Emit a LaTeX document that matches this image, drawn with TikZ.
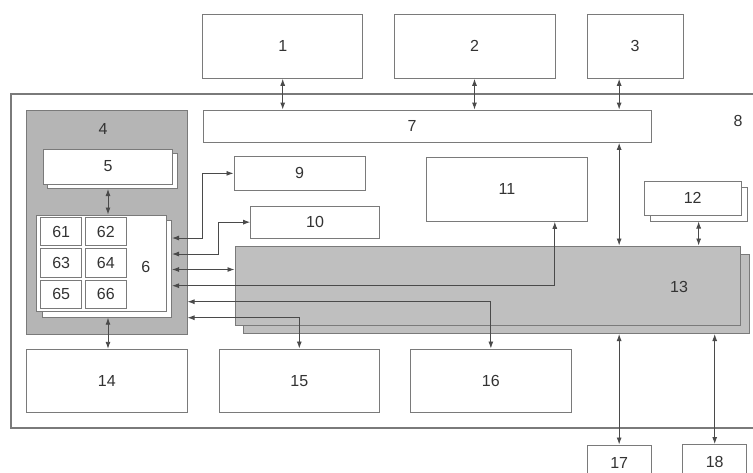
\documentclass[tikz,border=0pt]{standalone}
\usepackage{fontspec}
\setmainfont{Liberation Sans}
\usetikzlibrary{arrows.meta,positioning,calc,shadows}
\definecolor{boxline}{HTML}{7A7A7A}
\definecolor{unitfill}{HTML}{B5B5B5}
\definecolor{busfill}{HTML}{BFBFBF}
\definecolor{wireline}{HTML}{4A4A4A}
\definecolor{textgrey}{HTML}{333333}
\tikzset{
  every node/.style={font=\fontsize{16}{18}\selectfont, text=textgrey},
  box/.style={rectangle, draw=boxline, fill=white, line width=1pt,
    inner sep=0pt},
  unit/.style={box, fill=unitfill},
  bus/.style={box, fill=busfill},
  stack/.style={copy shadow={shadow xshift=#1, shadow yshift=-#1}},
  cell/.style={box, minimum width=41pt, minimum height=28.5pt},
  frame/.style={rectangle, draw=boxline, line width=1.2pt, inner sep=0pt},
  biflow/.style={{Latex[length=7pt,width=5pt]}-{Latex[length=7pt,width=5pt]},
    line width=0.9pt, draw=wireline},
}
\begin{document}
\begin{tikzpicture}[x=1pt,y=-1pt]
\useasboundingbox (0,0) rectangle (753,472);
\clip (0,0) rectangle (753,472);

% ---- Outside units --------------------------------------------------------
\node[box, minimum width=160pt, minimum height=64pt] (b1) at (282.7,46.3) {1};
\node[box, minimum width=161pt, minimum height=64pt] (b2) at (474.5,46.3) {2};
\node[box, minimum width=96pt, minimum height=64pt] (b3) at (635,46.3) {3};

% ---- Housing --------------------------------------------------------------
\node[frame, minimum width=748pt, minimum height=334pt] (b8) at (385,261) {};
\node at (738,121) {8};

\node[box, minimum width=448pt, minimum height=32.3pt,
  label={[xshift=-15pt]center:7}] (b7) at (427,126.2) {};

% ---- Control unit ---------------------------------------------------------
\node[unit, minimum width=160.3pt, minimum height=224pt] (b4) at (106.85,222) {};
\node at (103,129) {4};
\node[box, stack=4.5pt, minimum width=129.4pt, minimum height=35pt] (b5)
  at (108,166.5) {5};
\node[box, stack=5.5pt, minimum width=129.3pt, minimum height=96.7pt] (b6)
  at (101.35,263.35) {};
\node at (145.7,266.7) {6};
\foreach \r in {0,1,2}
  \foreach \c in {0,1} {
    \pgfmathtruncatemacro{\num}{61+2*\r+\c}
    \node[cell] (c\num) at (61.2+44.65*\c, 231.7+31.35*\r) {\num};
  }

% ---- Inner units ----------------------------------------------------------
\node[box, minimum width=131pt, minimum height=33.3pt] (b9) at (299.5,173.35) {9};
\node[box, minimum width=128.6pt, minimum height=32.3pt] (b10) at (315,222.15) {10};
\node[box, minimum width=160.6pt, minimum height=64pt] (b11) at (507,189.3) {11};
\node[box, stack=6pt, minimum width=96.7pt, minimum height=34pt] (b12)
  at (692.65,198) {12};
\node[bus, stack=8.5pt, minimum width=505.7pt, minimum height=79pt] (b13)
  at (487.85,285.5) {};
\node at (679,286.7) {13};

\node[box, minimum width=160.3pt, minimum height=63.4pt] (b14) at (106.85,381) {14};
\node[box, minimum width=160pt, minimum height=63.7pt] (b15) at (299.3,380.85) {15};
\node[box, minimum width=160.3pt, minimum height=63.7pt] (b16) at (490.85,380.85) {16};

\node[box, minimum width=63.7pt, minimum height=35pt] (b17) at (619.15,462.5) {17};
\node[box, minimum width=64pt, minimum height=35pt] (b18) at (714.7,462) {18};

% ---- Links ----------------------------------------------------------------
\foreach \n in {b1,b2}
  \draw[biflow] (\n.south) -- (\n.south |- b7.north);
\draw[biflow] (b3.south -| b17) -- (b7.north -| b17);
\draw[biflow] (b7.south -| b17) -- (b13.north -| b17);
\draw[biflow] ([xshift=6pt,yshift=-6pt]b12.south) -- ([xshift=6pt]b12.south |- b13.north);
\draw[biflow] ([yshift=-8.5pt]b13.south -| b17) -- (b17.north);
\draw[biflow] ([yshift=-8.5pt]b13.south -| b18) -- (b18.north);
\draw[biflow] ([yshift=-4.5pt]b5.south) -- (b5.south |- b6.north);
\draw[biflow] ([yshift=-5.5pt]b6.south -| b5) -- (b14.north -| b5);

% ports of 6 and of 4
\foreach \i/\yy in {1/238,2/254,3/269.5,4/285.7}
  \coordinate (p\i) at ([xshift=5.5pt]b6.east |- 0,\yy);
\coordinate (q5) at (b4.east |- 0,301.7);
\coordinate (q6) at (b4.east |- 0,317.7);

\draw[biflow] (p1) -| ([xshift=-31pt]b9.west) -- (b9.west);
\draw[biflow] (p2) -| ([xshift=-31.4pt]b10.west) -- (b10.west);
\draw[biflow] (p3) -- (b13.west |- p3);
\draw[biflow] (p4) -| ([xshift=-33pt]b11.south east);
\draw[biflow] (q5) -| (b16.north);
\draw[biflow] (q6) -| (b15.north);

\end{tikzpicture}
\end{document}
